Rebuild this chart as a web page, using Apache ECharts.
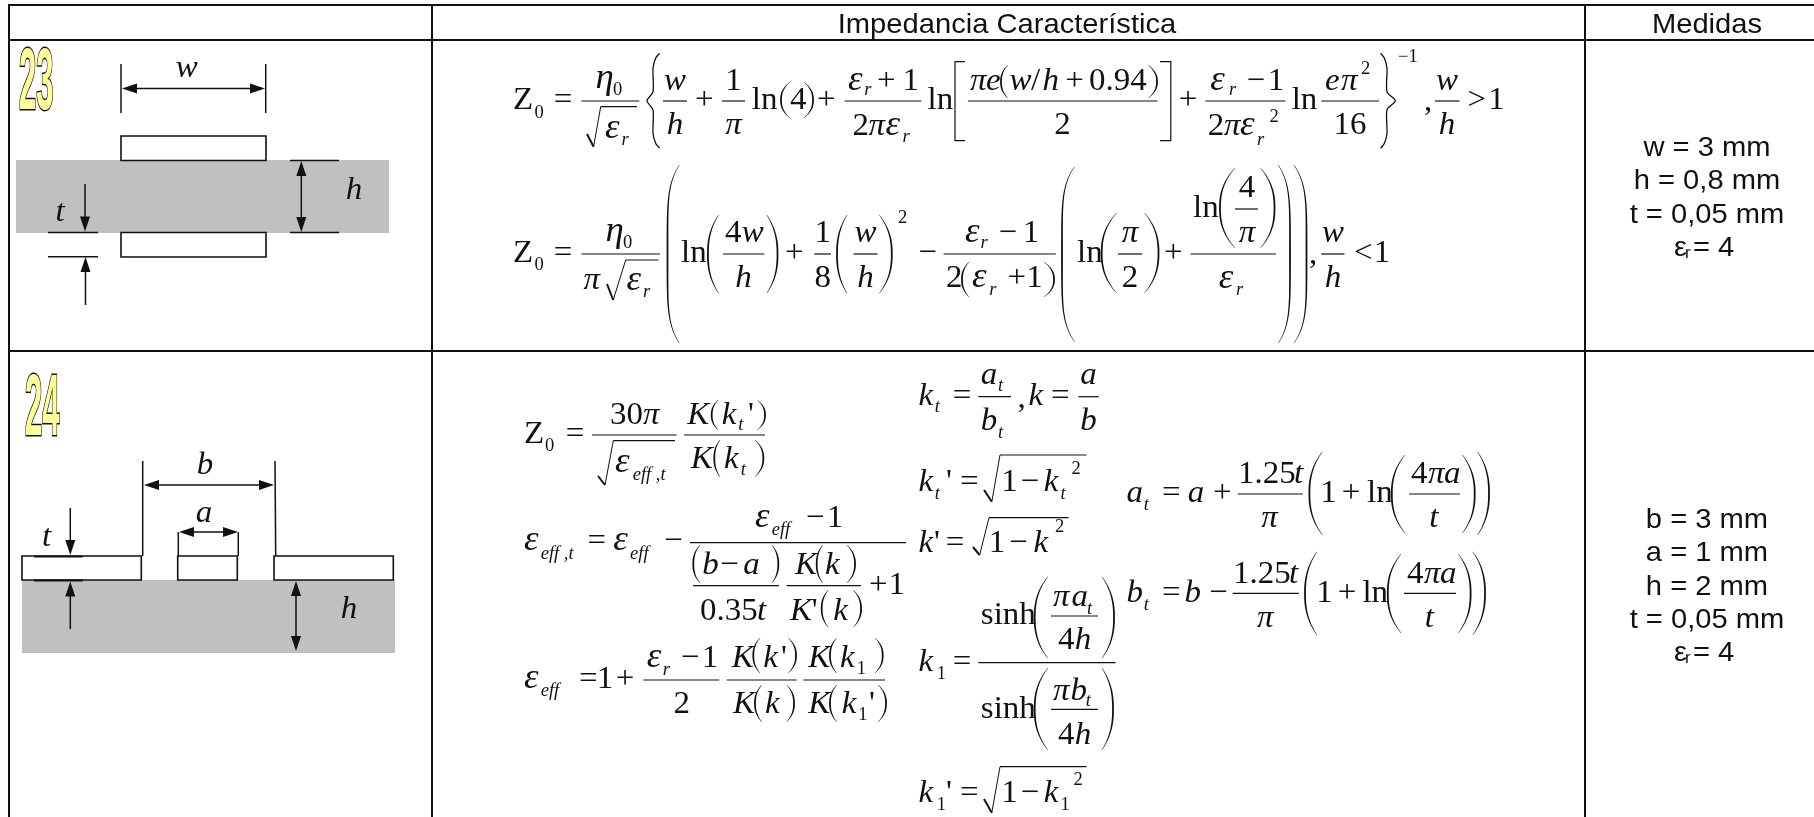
<!DOCTYPE html>
<html>
<head>
<meta charset="utf-8">
<style>
  html, body { margin: 0; padding: 0; background: #fff; }
  #chart { width: 1814px; height: 817px; }
</style>
<script src="https://cdn.jsdelivr.net/npm/echarts@6/dist/echarts.min.js"></script>
</head>
<body>
<div id="chart"></div>
<script>
const headers = ['Impedancia Característica', 'Medidas'];
const rowLabels = ['23', '24'];
const measures23 = ['w = 3 mm', 'h = 0,8 mm', 't = 0,05 mm'];
const measures24 = ['b = 3 mm', 'a = 1 mm', 'h = 2 mm', 't = 0,05 mm'];
const epsLabel = ['ε', 'r', '= 4'];

const SERIF = '"Liberation Serif", serif';
const SANS = '"Liberation Sans", sans-serif';
const INK = '#111';
const BASE_K = 0.25;
const items = [];

// text placed by its baseline
function txt(x, base, s, size, opt) {
  opt = opt || {};
  const family = opt.family || SERIF;
  items.push({
    type: 'text', silent: true, x: x, y: base - BASE_K * size,
    scaleX: family === SANS ? 1.06 : 1.03, // the source picture is a little wider than tall
    style: {
      x: 0, y: 0, text: s, fill: INK,
      font: (opt.italic ? 'italic ' : '') + size + 'px ' + family,
      textAlign: opt.align || 'left', textVerticalAlign: 'middle'
    }
  });
}
const M = 32, S = 18;
const greekSize = s => (s === 'ε' || s === 'η' ? M * 1.12 : M);
const m = (x, b, s) => txt(x, b, s, greekSize(s), { italic: true });
const n = (x, b, s) => txt(x, b, s, M);
const mc = (x, b, s) => txt(x, b, s, M, { italic: true, align: 'center' });
const nc = (x, b, s) => txt(x, b, s, M, { align: 'center' });
const sub = (x, b, s) => txt(x, b, s, S, { italic: true });
const subn = (x, b, s) => txt(x, b, s, S);

function line(x1, y1, x2, y2, w) {
  items.push({
    type: 'line', silent: true,
    shape: { x1: x1, y1: y1, x2: x2, y2: y2 },
    style: { stroke: INK, lineWidth: w || 1.2 }
  });
}
const bar = (x1, x2, y) => line(x1, y, x2, y, 1.2);

function poly(points, fill) {
  items.push({ type: 'polygon', silent: true, shape: { points: points }, style: { fill: fill || INK } });
}
function pline(points, w, smooth) {
  items.push({
    type: 'polyline', silent: true,
    shape: { points: points, smooth: smooth || 0 },
    style: { stroke: INK, lineWidth: w || 1.2, fill: 'none' }
  });
}
// stretchy round bracket, tapered: spine and tip x, top and bottom y
function paren(spine, tip, top, bot) {
  const pow = bot - top > 120 ? 5 : 2.4;
  const a = [], b = [];
  for (let i = 0; i <= 30; i++) {
    const s = i / 30;
    const u = Math.abs(2 * s - 1);
    const x = spine + (tip - spine) * Math.pow(u, pow);
    const y = top + s * (bot - top);
    const w = 0.5 + 1.3 * (1 - u * u);
    a.push([x - w / 2, y]);
    b.unshift([x + w / 2, y]);
  }
  poly(a.concat(b));
}
function brace(tip, spine, cusp, top, bot) {
  const mid = (top + bot) / 2;
  const d = spine + (tip - spine) * 0.4;
  pline([[tip, top], [d, top + 5], [spine, top + 15], [spine, mid - 9], [cusp, mid],
    [spine, mid + 9], [spine, bot - 15], [d, bot - 5], [tip, bot]], 1.3, 0.25);
}
function sqrt(x0, y0, x1, y1, x2, y2, x3) {
  line(x0, y0, x1, y1, 2);
  line(x1, y1, x2, y2, 1);
  line(x2, y2, x3, y2, 1.2);
}
function head(x, y, dx, dy) {
  // tip at x,y pointing along dx,dy
  const L = 15, H = 5;
  poly([[x, y], [x - dx * L - dy * H, y - dy * L - dx * H], [x - dx * L + dy * H, y - dy * L + dx * H]]);
}
function bigNum(x, base, s) {
  items.push({
    type: 'text', silent: true, x: x, y: base - BASE_K * 88, scaleX: 0.354,
    style: {
      x: 0, y: 0, text: s, fill: '#ffff99', stroke: '#111', lineWidth: 3,
      font: 'bold 88px ' + SANS, textAlign: 'left', textVerticalAlign: 'middle'
    }
  });
}
const sans = (x, b, s, size, align) => txt(x, b, s, size, { family: SANS, align: align || 'center' });

// ---- table frame
line(8, 5, 1814, 5, 2); line(8, 40, 1814, 40, 2); line(8, 351, 1814, 351, 2);
line(9, 4, 9, 817, 2); line(432, 4, 432, 817, 2); line(1585, 4, 1585, 817, 2);
sans(1007, 32.3, headers[0], 27.5);
sans(1707, 32.3, headers[1], 27.5);

// ---- measures columns
const CX = 1707, PITCH = 33.4;
measures23.forEach((s, i) => sans(CX, 155 + i * PITCH, s, 27.5));
sans(CX - 33, 255, epsLabel[0], 27.5, 'left'); sans(CX - 22, 258, epsLabel[1], 16, 'left'); sans(CX - 14, 255, epsLabel[2], 27.5, 'left');
measures24.forEach((s, i) => sans(CX, 527 + i * PITCH, s, 27.5));
sans(CX - 33, 660, epsLabel[0], 27.5, 'left'); sans(CX - 22, 663, epsLabel[1], 16, 'left'); sans(CX - 14, 660, epsLabel[2], 27.5, 'left');

// ---- cell 23 drawing
bigNum(19, 107, rowLabels[0]);
items.push({ type: 'rect', silent: true, shape: { x: 16, y: 160, width: 373, height: 73 }, style: { fill: '#c0c0c0' } });
[[121, 136, 145, 24.5], [121, 232.5, 145, 24.5]].forEach(r => items.push({
  type: 'rect', silent: true, shape: { x: r[0], y: r[1], width: r[2], height: r[3] },
  style: { fill: '#fff', stroke: INK, lineWidth: 1.6 }
}));
line(121, 64, 121, 113, 1.5); line(265.7, 64, 265.7, 113, 1.5);
line(125, 88.5, 262, 88.5, 1.5); head(122, 88.5, -1, 0); head(265, 88.5, 1, 0);
mc(186.7, 77, 'w');
line(290, 160.5, 339, 160.5, 1.5); line(290, 232.5, 339, 232.5, 1.5);
line(301.3, 165, 301.3, 228, 1.5); head(301.3, 161, 0, -1); head(301.3, 232, 0, 1);
mc(354, 199, 'h');
mc(60, 220.7, 't');
line(85, 184, 85, 222, 1.5); head(85, 231.5, 0, 1);
line(48, 232.5, 98, 232.5, 1.5); line(48, 256.7, 98, 256.7, 1.5);
line(85.5, 305, 85.5, 265, 1.5); head(85.5, 257, 0, -1);

// ---- cell 24 drawing
bigNum(25, 433, rowLabels[1]);
items.push({ type: 'rect', silent: true, shape: { x: 22, y: 580, width: 373, height: 73 }, style: { fill: '#c0c0c0' } });
[[22, 119.3], [177.7, 59.6], [274, 119.3]].forEach(r => items.push({
  type: 'rect', silent: true, shape: { x: r[0], y: 556, width: r[1], height: 24 },
  style: { fill: '#fff', stroke: INK, lineWidth: 1.6 }
}));
line(142.7, 461, 142.7, 556, 1.5); line(275, 461, 275.7, 556, 1.5);
line(150, 485, 268, 485, 1.5); head(144, 485, -1, 0); head(274, 485, 1, 0);
mc(205, 474, 'b');
line(178.3, 532, 178.3, 556, 1.5); line(238.3, 532, 238.3, 556, 1.5);
line(184, 532, 233, 532, 1.5); head(179, 532, -1, 0); head(238, 532, 1, 0);
mc(204, 521.7, 'a');
mc(46.7, 546, 't');
line(70.3, 508, 70.3, 545, 1.5); head(70.3, 555, 0, 1);
line(34, 556.5, 82.7, 556.5, 2); line(34, 580.5, 82.7, 580.5, 2);
line(70.3, 629, 70.3, 590, 1.5); head(70.3, 581.5, 0, -1);
line(296, 590, 296, 645, 1.5); head(296, 581, 0, -1); head(296, 651, 0, 1);
mc(349, 617.7, 'h');

// ---- formula, w/h > 1
n(513, 109, 'Z'); subn(534.6, 117.3, '0'); nc(563, 109, '=');
bar(581.4, 639.3, 101);
m(595.4, 87.3, 'η'); subn(613, 95, '0');
sqrt(587, 134, 593.6, 146.7, 600.7, 106.7, 637);
m(605, 137.3, 'ε'); sub(621.4, 145, 'r');
brace(659.6, 653, 647, 53.3, 148.3);
bar(662.9, 687, 101); mc(675, 89.3, 'w'); mc(675, 134, 'h');
nc(704.3, 109, '+');
bar(722, 745, 101); nc(733.5, 89.3, '1'); mc(733.5, 134, 'π');
n(751.8, 108.7, 'ln'); paren(781, 790, 82, 118); n(790, 108.7, '4'); paren(813, 804, 82, 118);
nc(826.4, 109, '+');
bar(844.6, 921.4, 101);
m(847.9, 89.3, 'ε'); sub(864.3, 94.3, 'r'); nc(886.4, 89.3, '+'); nc(910.7, 89.3, '1');
n(852.5, 135, '2'); m(868.6, 135, 'π'); m(885.4, 135, 'ε'); sub(902.5, 141.7, 'r');
n(927.5, 108.7, 'ln');
pline([[965, 61.7], [955, 61.7], [955, 140.7], [965, 140.7]], 1.2);
bar(967.9, 1157.5, 101);
m(970, 89.3, 'π'); m(986, 89.3, 'e'); paren(1001, 1008, 65, 98.3);
m(1009.6, 89.3, 'w'); n(1031, 89.3, '/'); m(1042.5, 89.3, 'h');
nc(1074.5, 89.3, '+'); n(1089, 89.3, '0.94'); paren(1157, 1148, 65, 98.3);
nc(1062.5, 134, '2');
pline([[1160, 61.7], [1170.8, 61.7], [1170.8, 140.7], [1160, 140.7]], 1.2);
nc(1188, 109, '+');
bar(1205.3, 1285.3, 101);
m(1210.3, 89.3, 'ε'); sub(1229, 95, 'r'); nc(1255.7, 89.3, '−'); nc(1276, 89.3, '1');
n(1207.8, 135, '2'); m(1224, 135, 'π'); m(1240, 135, 'ε'); sub(1257, 145, 'r'); subn(1269.5, 121.7, '2');
n(1291.7, 108.7, 'ln');
bar(1321.3, 1379, 101);
m(1325, 89.3, 'e'); m(1341, 89.3, 'π'); subn(1361, 73.3, '2');
nc(1350, 134, '16');
brace(1380.6, 1387, 1395.4, 53.3, 148.3);
subn(1398, 61.7, '−1');
n(1424, 110, ',');
bar(1434.9, 1459.5, 101); mc(1447, 89.3, 'w'); mc(1447, 134, 'h');
nc(1476.8, 109, '>'); nc(1496.6, 109, '1');

// ---- formula, w/h < 1
n(513, 261.7, 'Z'); subn(534.6, 269.3, '0'); nc(563, 261.7, '=');
bar(581.4, 660, 254);
m(605.4, 240.7, 'η'); subn(622.9, 247.7, '0');
m(583.6, 289, 'π');
sqrt(607, 284, 613.2, 300, 625.7, 260, 658.6);
m(626.4, 289.3, 'ε'); sub(642.9, 296.7, 'r');
paren(667.5, 679.3, 165, 343.3);
n(681, 261.7, 'ln'); paren(707.9, 718.6, 215, 293.3);
bar(722.9, 764.3, 254);
n(725, 241.7, '4'); m(741.8, 241.7, 'w'); mc(743.6, 286.7, 'h');
paren(777.5, 766.8, 215, 293.3);
nc(794.3, 261.7, '+');
bar(814.3, 831, 254); nc(822.7, 241.7, '1'); nc(822.7, 286.7, '8');
paren(837, 847, 215, 293.3);
bar(853.6, 877.5, 254); mc(865.5, 241.7, 'w'); mc(865.5, 286.7, 'h');
paren(891.8, 879.3, 215, 293.3);
subn(898, 222.7, '2');
nc(927.5, 261.7, '−');
bar(943.6, 1055.8, 254);
m(965, 241.7, 'ε'); sub(980.4, 247.7, 'r'); nc(1007.9, 241.7, '−'); nc(1031, 241.7, '1');
n(946, 286.7, '2'); paren(962, 969, 262, 297);
m(972, 286.7, 'ε'); sub(989.3, 295, 'r'); nc(1016.8, 286.7, '+'); nc(1034.6, 286.7, '1');
paren(1054, 1044, 262, 297);
paren(1062, 1074.5, 166.7, 341.7);
n(1077, 261.7, 'ln'); paren(1101.7, 1116.5, 213, 293);
bar(1118, 1142.2, 254); mc(1130, 241.7, 'π'); nc(1130, 286.7, '2');
paren(1158.5, 1144.6, 213, 293);
nc(1173.3, 261.7, '+');
bar(1190.5, 1276, 254);
n(1193, 216.7, 'ln'); paren(1220, 1235, 168, 248);
bar(1235, 1258, 209); nc(1247, 196.7, '4'); mc(1247, 241.7, 'π');
paren(1274.5, 1260.6, 168, 248);
m(1218.7, 287.3, 'ε'); sub(1236, 295, 'r');
paren(1290, 1278.4, 165, 343.3); paren(1306.5, 1294, 165, 343.3);
n(1309, 263, ',');
bar(1321.3, 1344.5, 254); mc(1333, 241.7, 'w'); mc(1333, 286.7, 'h');
nc(1363.3, 261.7, '<'); nc(1382, 261.7, '1');

// ---- cell 24, left column
n(524, 442.7, 'Z'); subn(545, 450.7, '0'); nc(575, 442.7, '=');
bar(592, 676.7, 435); n(610, 424, '30'); m(643, 424, 'π');
sqrt(598, 476, 605, 485, 613.3, 440.7, 675);
m(615, 471.7, 'ε'); sub(632.7, 479.3, 'eff ,t');
bar(684, 765, 435);
m(687.3, 424, 'K'); paren(711.7, 718.3, 400, 430); m(721.7, 424, 'k'); sub(738.3, 430, 't'); n(748, 424, "'"); paren(765, 757.3, 400, 430);
m(690.7, 467.3, 'K'); paren(714.3, 720, 440, 476.7); m(724, 467.3, 'k'); sub(740.7, 475, 't'); paren(763.3, 755, 440, 476.7);

m(524, 550, 'ε'); sub(540.7, 558.3, 'eff ,t'); nc(596.7, 550, '=');
m(613.3, 550, 'ε'); sub(630, 558.3, 'eff'); nc(673.3, 550, '−');
bar(690, 906, 542.7);
m(755, 526.7, 'ε'); sub(771.7, 534.3, 'eff'); nc(815, 526.7, '−'); nc(835, 526.7, '1');
paren(693.3, 700, 545, 583); m(702.3, 574, 'b'); nc(729.3, 574, '−'); m(743.3, 574, 'a'); paren(778.3, 771.7, 545, 583);
bar(693, 779, 585.7); n(700, 619.3, '0.35'); m(757, 619.3, 't');
m(795, 574, 'K'); paren(816.7, 822.7, 545, 583); m(825, 574, 'k'); paren(855, 846.7, 545, 583);
bar(786.7, 861, 585.7);
m(790, 619.3, 'K'); n(811.7, 619.3, "'"); paren(821.7, 828.3, 590, 627.3); m(833.3, 619.3, 'k'); paren(861, 853.3, 590, 627.3);
nc(878.3, 594, '+'); nc(896.7, 594, '1');

m(524, 687.3, 'ε'); sub(540.7, 696, 'eff'); nc(588.3, 687.3, '='); nc(605, 687.3, '1'); nc(625, 687.3, '+');
bar(643.3, 719.3, 680);
m(646.7, 666.7, 'ε'); sub(662.7, 675, 'r'); nc(690, 666.7, '−'); nc(710, 666.7, '1'); nc(681.7, 712.7, '2');
bar(726.7, 796.7, 680);
m(731.7, 666.7, 'K'); paren(753.3, 760, 638, 673); m(763.3, 666.7, 'k'); n(781, 666.7, "'"); paren(796, 788.3, 638, 673);
m(733, 712.7, 'K'); paren(755, 761.7, 685, 721.7); m(765, 712.7, 'k'); paren(794, 786.7, 685, 721.7);
bar(803.3, 885, 680);
m(808.3, 666.7, 'K'); paren(830, 836.7, 638, 673); m(840, 666.7, 'k'); subn(856.7, 674, '1'); paren(882.7, 875, 638, 673);
m(808.3, 712.7, 'K'); paren(830, 836.7, 685, 721.7); m(841.7, 712.7, 'k'); subn(858.3, 720, '1'); n(869, 712.7, "'"); paren(886, 878.3, 685, 721.7);

// ---- cell 24, middle column
m(918.4, 405, 'k'); sub(934.7, 411.7, 't'); nc(962, 405, '=');
bar(978.4, 1011, 396.7);
m(980.8, 384, 'a'); sub(998, 390.7, 't'); m(980.8, 429.3, 'b'); sub(998, 437.3, 't');
n(1017.6, 406.7, ','); m(1028.6, 405, 'k'); nc(1060.4, 405, '=');
bar(1078.4, 1098.8, 396.7); mc(1088.6, 384, 'a'); mc(1088.6, 429.3, 'b');

m(918.4, 490.7, 'k'); sub(934.7, 498.3, 't'); n(946, 490.7, "'"); nc(969.4, 490.7, '=');
sqrt(984, 490, 991.8, 501.7, 1000, 455, 1086.5);
nc(1009.4, 490.7, '1'); nc(1029.8, 490.7, '−'); m(1043.7, 490.7, 'k'); sub(1060.4, 498.3, 't'); subn(1071.4, 474, '2');

m(918.4, 551.7, 'k'); n(934, 551.7, "'"); nc(955, 551.7, '=');
sqrt(973, 547, 979.6, 555, 989, 517.7, 1068.6);
nc(997, 551.7, '1'); nc(1018.4, 551.7, '−'); m(1033.5, 551.7, 'k'); subn(1055, 531.7, '2');

m(918.4, 670.7, 'k'); subn(936.7, 678.3, '1'); nc(962, 670.7, '=');
bar(978.4, 1115.5, 662.7);
n(980.8, 624, 'sinh'); paren(1034.7, 1047.8, 576.7, 658.3);
m(1053, 606, 'π'); m(1071.4, 606, 'a'); sub(1087, 613.3, 't');
bar(1051, 1098, 616); n(1058, 649, '4'); m(1074.7, 649, 'h');
paren(1114, 1102, 576.7, 658.3);
n(980.8, 717.7, 'sinh'); paren(1034.7, 1047.8, 668, 750);
m(1053, 699.3, 'π'); m(1070.6, 699.3, 'b'); sub(1085.7, 706, 't');
bar(1051, 1098, 709.3); n(1058, 743.3, '4'); m(1074.7, 743.3, 'h');
paren(1113, 1102, 668, 750);

m(918.4, 801.7, 'k'); subn(936.7, 810, '1'); n(946, 801.7, "'"); nc(969.4, 801.7, '=');
sqrt(984, 799, 991.8, 812.7, 1000, 766.7, 1086.5);
nc(1009.4, 801.7, '1'); nc(1029.8, 801.7, '−'); m(1043.7, 801.7, 'k'); subn(1060.4, 810, '1'); subn(1073.5, 785, '2');

// ---- a_t and b_t
m(1126.5, 501.7, 'a'); sub(1143.7, 509.3, 't'); nc(1171.4, 501.7, '='); m(1187.8, 501.7, 'a'); nc(1222.4, 501.7, '+');
bar(1237.6, 1302.9, 494); n(1238, 482.7, '1.25'); m(1294, 482.7, 't'); mc(1269.4, 526.7, 'π');
paren(1309.4, 1322.4, 451.7, 535); nc(1328.6, 501.7, '1'); nc(1351, 501.7, '+'); n(1367, 501.7, 'ln');
paren(1391.8, 1405, 455, 533);
bar(1409, 1460, 494); n(1411, 482.7, '4'); m(1428, 482.7, 'π'); m(1444, 482.7, 'a'); mc(1433.9, 526.7, 't');
paren(1474.7, 1462.4, 455, 533); paren(1489, 1477.6, 451.7, 535);

m(1126.5, 601.7, 'b'); sub(1143.7, 609.3, 't'); nc(1171.4, 601.7, '='); m(1184.5, 601.7, 'b'); nc(1218.4, 601.7, '−');
bar(1232.7, 1298.8, 593.3); n(1233, 582.3, '1.25'); m(1289, 582.3, 't'); mc(1265.3, 626.7, 'π');
paren(1305, 1317, 551.7, 635); nc(1324.5, 601.7, '1'); nc(1347, 601.7, '+'); n(1362.4, 601.7, 'ln');
paren(1387.8, 1401, 554, 633);
bar(1404, 1456, 593.3); n(1407, 582.3, '4'); m(1424, 582.3, 'π'); m(1440, 582.3, 'a'); mc(1429.4, 626.7, 't');
paren(1470.6, 1458.4, 554, 633); paren(1485, 1472.7, 551.7, 635);

const chart = echarts.init(document.getElementById('chart'));
chart.setOption({
  animation: false,
  backgroundColor: '#fff',
  graphic: { elements: items }
});
</script>
</body>
</html>
